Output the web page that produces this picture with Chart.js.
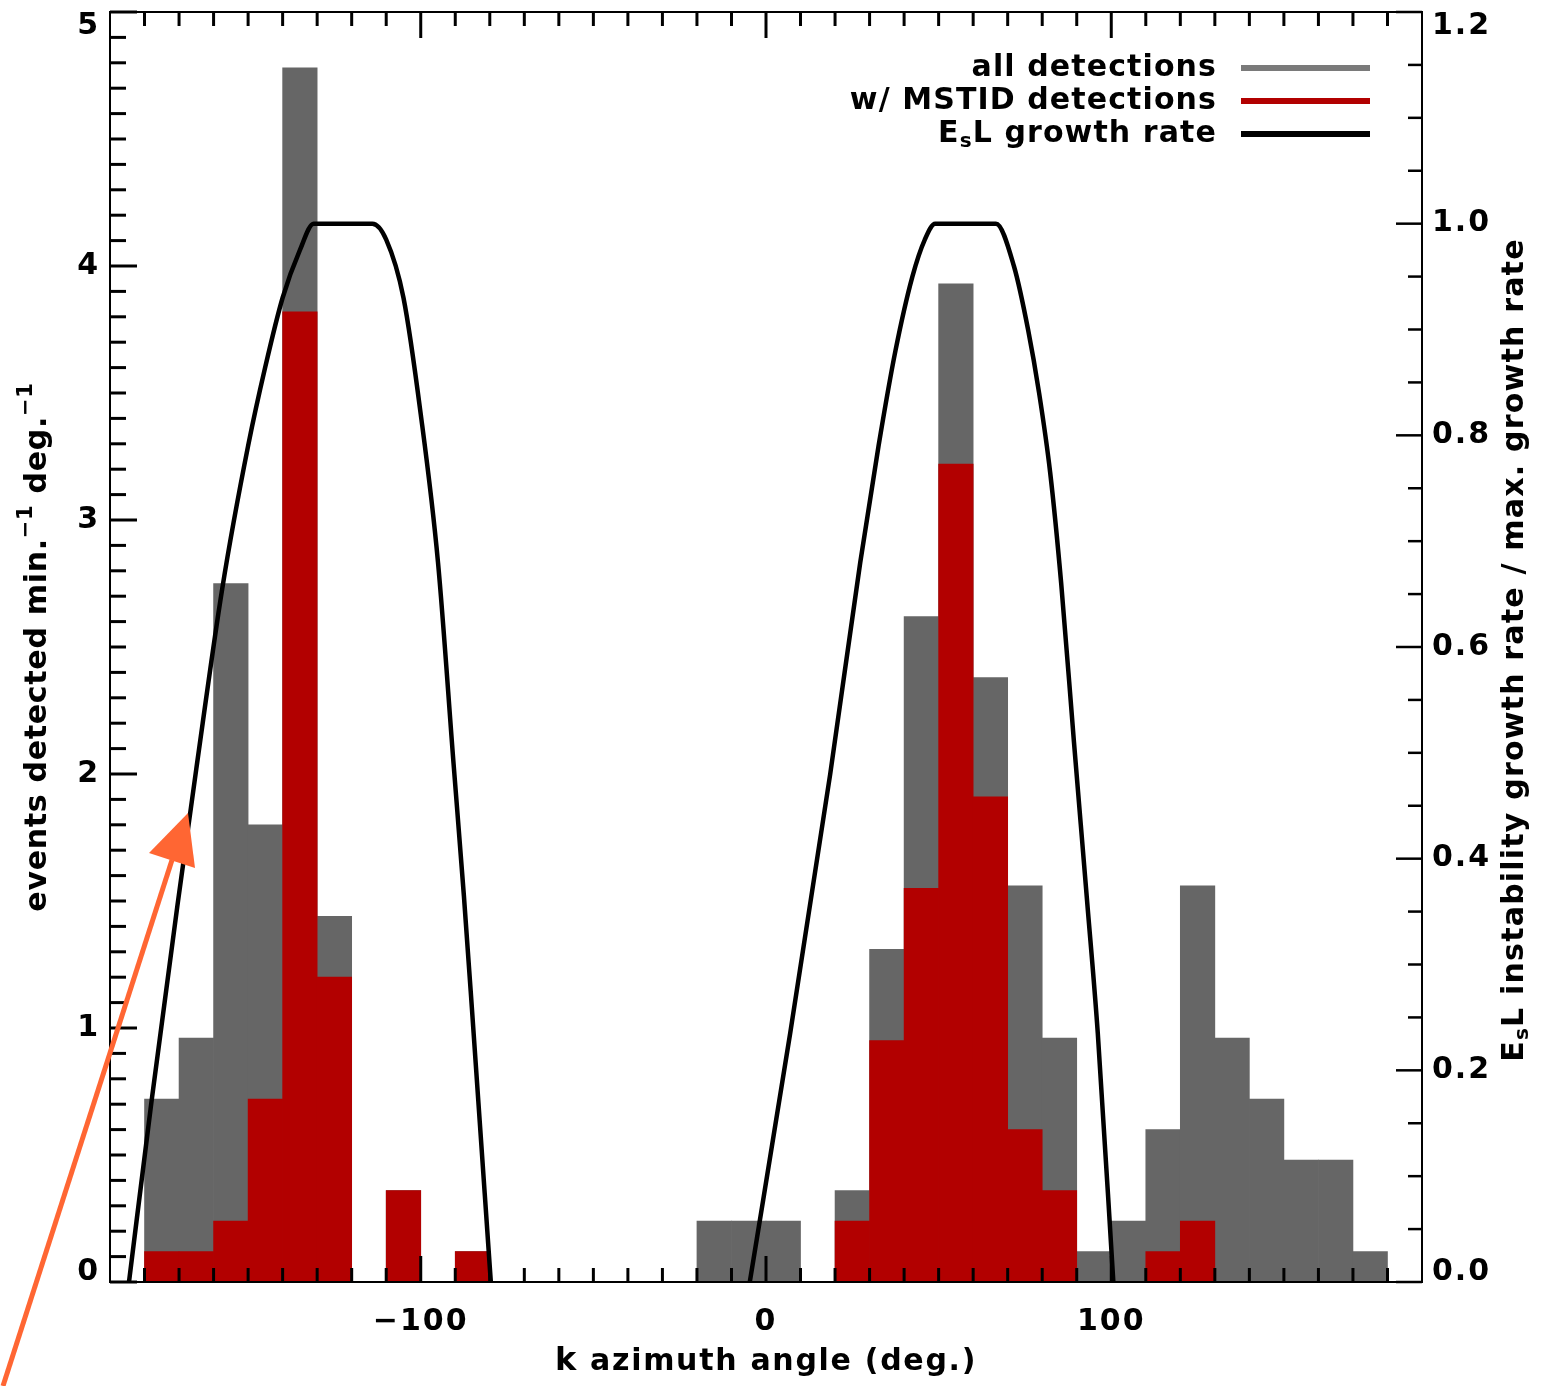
<!DOCTYPE html>
<html>
<head>
<meta charset="utf-8">
<title>k azimuth angle histogram</title>
<script src="https://cdn.jsdelivr.net/npm/chart.js@4.4.0/dist/chart.umd.min.js"></script>
<style>
    html, body { margin: 0; padding: 0; background: #ffffff; }
    #wrap { width: 1547px; height: 1386px; position: relative; }
</style>
</head>
<body>
<div id="wrap"><canvas id="azimuthChart"></canvas></div>
<script>
// Histogram bins (10 deg wide), given by their centres
const binCenters = [
    -175, -165, -155, -145, -135, -125, -115, -105, -95, -85, -75, -65,
    -55, -45, -35, -25, -15, -5, 5, 15, 25, 35, 45, 55,
    65, 75, 85, 95, 105, 115, 125, 135, 145, 155, 165, 175
];

// events detected min.^-1 deg.^-1
const allDetections = [
    0.72, 0.96, 2.75, 1.80, 4.78, 1.44, 0, 0.36, 0, 0.12, 0, 0,
    0, 0, 0, 0, 0.24, 0.24, 0.24, 0, 0.36, 1.31, 2.62, 3.93,
    2.38, 1.56, 0.96, 0.12, 0.24, 0.60, 1.56, 0.96, 0.72, 0.48, 0.48, 0.12
];
const mstidDetections = [
    0.12, 0.12, 0.24, 0.72, 3.82, 1.20, 0, 0.36, 0, 0.12, 0, 0,
    0, 0, 0, 0, 0, 0, 0, 0, 0.24, 0.95, 1.55, 3.22,
    1.91, 0.60, 0.36, 0, 0, 0.12, 0.24, 0, 0, 0, 0, 0
];

// E_sL growth rate / max growth rate (null = gap between lobes)
const growthAngle = [
    -184.5, -178, -170.5, -165, -157.5, -150, -145, -140, -135, -131,
    -114, -110, -105, -100, -95, -90.5, -87.5, -85, -79.7,
    -40,
    -4.7, 7, 18.6, 27.3, 32.6, 37.5, 42.4, 46, 49,
    66.6, 71.8, 75.9, 79.1, 82.3, 85.5, 89.2, 93, 96.1, 100.6
];
const growthRate = [
    0, 0.17, 0.355, 0.485, 0.655, 0.79, 0.865, 0.93, 0.975, 1.0,
    1.0, 0.985, 0.93, 0.82, 0.68, 0.49, 0.365, 0.25, 0,
    null,
    0, 0.235, 0.48, 0.68, 0.79, 0.88, 0.95, 0.985, 1.0,
    1.0, 0.96, 0.90, 0.84, 0.765, 0.66, 0.51, 0.36, 0.235, 0
];

// tick labels
const xTickValues = [-100, 0, 100];
const leftTickValues = [0, 1, 2, 3, 4, 5];
const rightTickValues = [0, 0.2, 0.4, 0.6, 0.8, 1.0, 1.2];

const GRAY = '#666666';
const RED = '#b20000';
const FONT_FAMILY = '"DejaVu Sans", "Liberation Sans", sans-serif';

function fontOf(size, bold) {
    return (bold ? 'bold ' : '') + size + 'px ' + FONT_FAMILY;
}

// draw text made of pieces (superscripts / subscripts)
function drawRich(ctx, parts, x, y, align, spacing) {
    ctx.letterSpacing = (spacing || 0) + 'px';
    let total = 0;
    parts.forEach(p => {
        ctx.font = fontOf(p.size || 30, true);
        p.w = ctx.measureText(p.t).width;
        total += p.w;
    });
    let cx = align === 'center' ? x - total / 2 : (align === 'right' ? x - total : x);
    ctx.textAlign = 'left';
    ctx.textBaseline = 'middle';
    parts.forEach(p => {
        ctx.font = fontOf(p.size || 30, true);
        ctx.fillText(p.t, cx, y + (p.dy || 0));
        cx += p.w;
    });
}

function tick(ctx, x1, y1, x2, y2) {
    ctx.beginPath();
    ctx.moveTo(x1, y1);
    ctx.lineTo(x2, y2);
    ctx.stroke();
}

const idlAxes = {
    id: 'idlAxes',
    afterDraw(chart) {
        const { ctx, chartArea: a } = chart;
        const { x, y, y2 } = chart.scales;
        ctx.save();
        ctx.strokeStyle = '#000';
        ctx.fillStyle = '#000';

        // frame
        ctx.lineWidth = 2;
        ctx.strokeRect(a.left, a.top, a.right - a.left, a.bottom - a.top);

        // x ticks, bottom and top, pointing inward
        ctx.lineWidth = 3;
        for (let k = -18; k <= 18; k++) {
            const px = x.getPixelForValue(k * 10);
            const len = k % 10 === 0 ? 26 : 14;
            tick(ctx, px, a.bottom, px, a.bottom - len);
            tick(ctx, px, a.top, px, a.top + len);
        }
        // left ticks
        for (let k = 0; k <= 50; k++) {
            const py = y.getPixelForValue(k / 10);
            const len = k % 10 === 0 ? 27 : 16;
            tick(ctx, a.left, py, a.left + len, py);
        }
        // right ticks
        ctx.lineWidth = 2.5;
        for (let k = 0; k <= 24; k++) {
            const py = y2.getPixelForValue(k * 0.05);
            const len = k % 4 === 0 ? 26 : 14;
            tick(ctx, a.right, py, a.right - len, py);
        }

        // tick labels
        ctx.letterSpacing = '2px';
        ctx.font = fontOf(30, true);
        ctx.textBaseline = 'middle';
        ctx.textAlign = 'center';
        xTickValues.forEach(v => {
            const label = v < 0 ? '\u2212' + Math.abs(v) : String(v);
            ctx.fillText(label, x.getPixelForValue(v), a.bottom + 40);
        });
        ctx.textAlign = 'right';
        leftTickValues.forEach(v => {
            const py = Math.min(Math.max(y.getPixelForValue(v), a.top + 14), a.bottom - 10);
            ctx.fillText(String(v), a.left - 10, py);
        });
        ctx.textAlign = 'left';
        rightTickValues.forEach(v => {
            const py = Math.min(Math.max(y2.getPixelForValue(v), a.top + 14), a.bottom - 10);
            ctx.fillText(v.toFixed(1), a.right + 10, py);
        });

        // axis titles
        drawRich(ctx, [
            { t: 'k', size: 32 },
            { t: ' azimuth angle (deg.)' }
        ], (a.left + a.right) / 2, a.bottom + 80, 'center', 1.7);

        ctx.save();
        ctx.translate(38, (a.top + a.bottom) / 2);
        ctx.rotate(-Math.PI / 2);
        drawRich(ctx, [
            { t: 'events detected min.' },
            { t: '\u22121', size: 21, dy: -11 },
            { t: ' deg.' },
            { t: '\u22121', size: 21, dy: -11 }
        ], 0, 0, 'center', 0.7);
        ctx.restore();

        ctx.save();
        ctx.translate(a.right + 93, (a.top + a.bottom) / 2 + 3);
        ctx.rotate(-Math.PI / 2);
        drawRich(ctx, [
            { t: 'E' },
            { t: 's', size: 20, dy: 8 },
            { t: 'L instability growth rate / max. growth rate' }
        ], 0, 0, 'center', 1.2);
        ctx.restore();

        // legend: text right-aligned, line sample to the right
        const legendItems = [
            { parts: [{ t: 'all detections' }], color: '#7a7a7a' },
            { parts: [{ t: 'w/ MSTID detections' }], color: RED },
            { parts: [{ t: 'E' }, { t: 's', size: 20, dy: 8 }, { t: 'L growth rate' }], color: '#000000' }
        ];
        legendItems.forEach((item, i) => {
            const ly = 68 + i * 33;
            ctx.fillStyle = '#000';
            drawRich(ctx, item.parts, 1217, ly, 'right', 1.1);
            ctx.strokeStyle = item.color;
            ctx.lineWidth = 6;
            tick(ctx, 1241, ly, 1370, ly);
        });

        // orange annotation arrow
        ctx.strokeStyle = '#ff6633';
        ctx.fillStyle = '#ff6633';
        ctx.lineWidth = 5;
        tick(ctx, 3, 1386, 172, 860);
        ctx.beginPath();
        ctx.moveTo(188, 813);
        ctx.lineTo(149, 853);
        ctx.lineTo(195, 868);
        ctx.closePath();
        ctx.fill();

        ctx.restore();
    }
};

const growthPoints = growthAngle.map((g, i) => ({ x: g, y: growthRate[i] }));
const allPoints = binCenters.map((c, i) => ({ x: c, y: allDetections[i] }));
const mstidPoints = binCenters.map((c, i) => ({ x: c, y: mstidDetections[i] }));

new Chart(document.getElementById('azimuthChart'), {
    type: 'bar',
    data: {
        datasets: [
            {
                type: 'line',
                label: 'EsL growth rate',
                data: growthPoints,
                yAxisID: 'y2',
                borderColor: '#000000',
                borderWidth: 4.5,
                pointRadius: 0,
                cubicInterpolationMode: 'monotone',
                spanGaps: false,
                order: 0
            },
            {
                label: 'w/ MSTID detections',
                data: mstidPoints,
                yAxisID: 'y',
                backgroundColor: RED,
                order: 1
            },
            {
                label: 'all detections',
                data: allPoints,
                yAxisID: 'y',
                backgroundColor: GRAY,
                order: 2
            }
        ]
    },
    options: {
        responsive: true,
        maintainAspectRatio: false,
        animation: false,
        layout: { padding: { left: 110, right: 125, top: 12, bottom: 104 } },
        datasets: {
            bar: { barPercentage: 1, categoryPercentage: 1, grouped: false, borderWidth: 0 }
        },
        plugins: {
            legend: { display: false },
            tooltip: { enabled: false }
        },
        scales: {
            x: { type: 'linear', min: -190, max: 190, offset: false, display: false },
            y: { min: 0, max: 5, display: false },
            y2: { min: 0, max: 1.2, display: false, position: 'right' }
        }
    },
    plugins: [idlAxes]
});
</script>
</body>
</html>
